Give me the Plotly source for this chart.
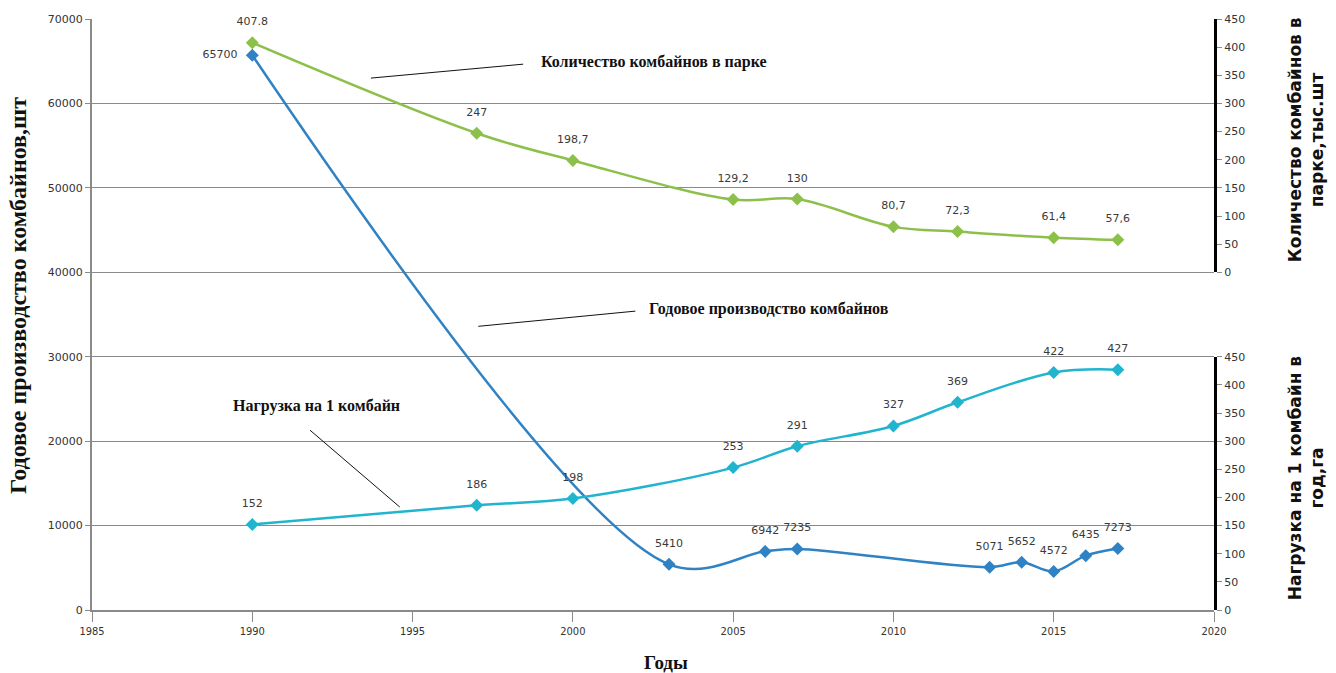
import plotly.graph_objects as go

# Годовое производство комбайнов, шт (left axis)
prod_years = [1990, 2003, 2006, 2007, 2013, 2014, 2015, 2016, 2017]
prod_values = [65700, 5410, 6942, 7235, 5071, 5652, 4572, 6435, 7273]
prod_pos = ["middle left", "top center", "top center", "top center", "top center",
            "top center", "top center", "top center", "top center"]

# Количество комбайнов в парке, тыс. шт (upper right axis)
park_years = [1990, 1997, 2000, 2005, 2007, 2010, 2012, 2015, 2017]
park_values = [407.8, 247, 198.7, 129.2, 130, 80.7, 72.3, 61.4, 57.6]
park_labels = ["407.8", "247", "198,7", "129,2", "130", "80,7", "72,3", "61,4", "57,6"]

# Нагрузка на 1 комбайн в год, га (lower right axis)
load_years = [1990, 1997, 2000, 2005, 2007, 2010, 2012, 2015, 2017]
load_values = [152, 186, 198, 253, 291, 327, 369, 422, 427]

x_ticks = [1985, 1990, 1995, 2000, 2005, 2010, 2015, 2020]

BLUE = "#2F82C4"
GREEN = "#8CC04A"
CYAN = "#21B4CF"
LABEL_FONT = dict(family="DejaVu Sans", size=11, color="#3a3a3a")
SERIF_BOLD = "Liberation Serif"

fig = go.Figure()


def add_series(xs, ys, labels, positions, color, axis):
    # smoothed line with diamond markers
    fig.add_trace(go.Scatter(
        x=xs, y=ys, mode="lines+markers",
        line=dict(color=color, width=2.5, shape="spline", smoothing=1.0),
        marker=dict(symbol="diamond", size=10, color=color),
        yaxis=axis, showlegend=False, hoverinfo="x+y",
    ))
    # value labels, offset a little further from the markers
    fig.add_trace(go.Scatter(
        x=xs, y=ys, mode="markers+text",
        marker=dict(size=22, color="rgba(0,0,0,0)"),
        text=labels, textposition=positions, textfont=LABEL_FONT,
        yaxis=axis, cliponaxis=False, showlegend=False, hoverinfo="skip",
    ))


add_series(prod_years, prod_values, [str(v) for v in prod_values], prod_pos, BLUE, "y")
add_series(park_years, park_values, park_labels, "top center", GREEN, "y2")
add_series(load_years, load_values, [str(v) for v in load_values], "top center", CYAN, "y3")

# Series captions with leader lines (data coordinates of the left axis)
captions = [
    ("Количество комбайнов в парке", 1998.95, 64900, (1993.7, 63000, 1998.45, 64650)),
    ("Годовое производство комбайнов", 2002.3, 35650, (1997.05, 33600, 2001.95, 35400)),
    ("Нагрузка на 1 комбайн", 1989.35, 24150, (1991.8, 21300, 1994.6, 12200)),
]
for text, tx, ty, (x0, y0, x1, y1) in captions:
    fig.add_annotation(x=tx, y=ty, xref="x", yref="y", text=f"<b>{text}</b>", showarrow=False,
                       xanchor="left", yanchor="middle",
                       font=dict(family=SERIF_BOLD, size=16, color="#111111"))
    fig.add_shape(type="line", xref="x", yref="y", x0=x0, y0=y0, x1=x1, y1=y1,
                  line=dict(color="#111111", width=1))

# Axis titles
fig.add_annotation(x=-0.066, y=0.533, xref="paper", yref="paper",
                   text="<b>Годовое производство комбайнов,шт</b>", textangle=-90,
                   xanchor="center", yanchor="middle",
                   showarrow=False, font=dict(family=SERIF_BOLD, size=24, color="#111111"))
fig.add_annotation(x=0.512, y=-0.088, xref="paper", yref="paper", text="<b>Годы</b>",
                   showarrow=False, xanchor="center", yanchor="middle",
                   font=dict(family=SERIF_BOLD, size=19, color="#111111"))
fig.add_annotation(x=1.082, y=0.795, xref="paper", yref="paper",
                   text="<b>Количество комбайнов в<br>парке,тыс.шт</b>", textangle=-90,
                   xanchor="center", yanchor="middle",
                   showarrow=False, font=dict(family="DejaVu Sans", size=17, color="#111111"))
fig.add_annotation(x=1.082, y=0.223, xref="paper", yref="paper",
                   text="<b>Нагрузка на 1 комбайн в<br>год,га</b>", textangle=-90,
                   xanchor="center", yanchor="middle",
                   showarrow=False, font=dict(family="DejaVu Sans", size=17, color="#111111"))

tick_font = dict(family="DejaVu Sans", size=11, color="#333333")

fig.update_layout(
    width=1336, height=673,
    margin=dict(l=92, r=122, t=19, b=63),
    paper_bgcolor="white", plot_bgcolor="rgba(0,0,0,0)",
    xaxis=dict(range=[1985, 2020], tickvals=x_ticks, showgrid=False,
               showline=True, linecolor="#8a8a8a", linewidth=2,
               ticks="outside", ticklen=10, tickcolor="#8a8a8a",
               tickfont=dict(family="DejaVu Sans Condensed", size=11, color="#333333"),
               zeroline=False),
    yaxis=dict(range=[0, 70000], dtick=10000, tickformat="d", showgrid=True,
               gridcolor="#8a8a8a", gridwidth=1, showline=True, linecolor="#8a8a8a",
               linewidth=2, ticks="outside", ticklen=5, tickcolor="#8a8a8a",
               tickfont=tick_font, zeroline=False),
    yaxis2=dict(domain=[4 / 7, 1], range=[0, 450], dtick=50, anchor="x", side="right",
                showgrid=False, showline=True, linecolor="black", linewidth=3,
                ticks="outside", ticklen=5, tickcolor="#8a8a8a",
                tickfont=tick_font, zeroline=False),
    yaxis3=dict(domain=[0, 3 / 7], range=[0, 450], dtick=50, anchor="x", side="right",
                showgrid=False, showline=True, linecolor="black", linewidth=3,
                ticks="outside", ticklen=5, tickcolor="#8a8a8a",
                tickfont=tick_font, zeroline=False),
)

fig.write_html("out.html")
